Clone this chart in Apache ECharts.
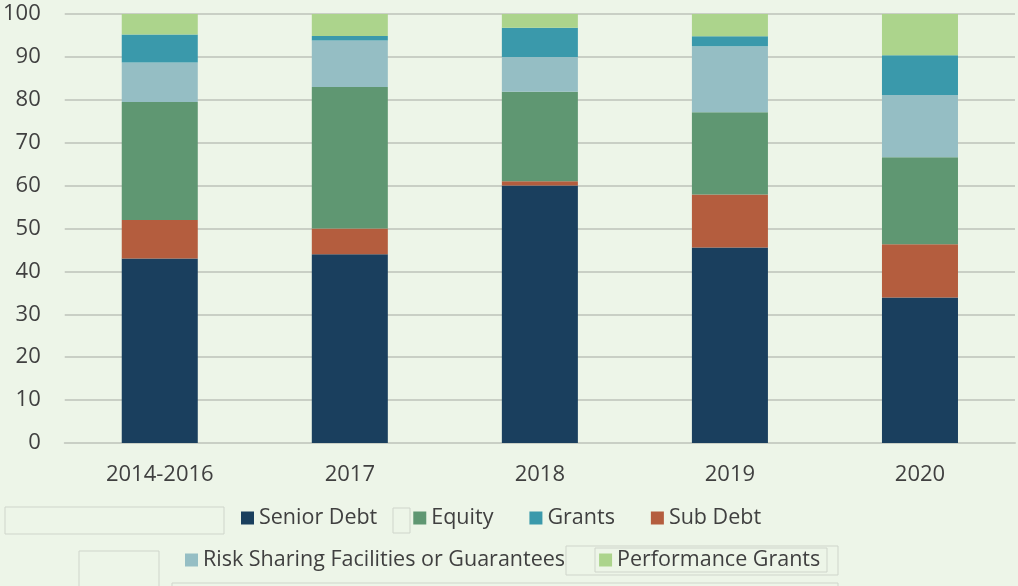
<!DOCTYPE html>
<html>
<head>
    <meta charset="utf-8">
    <title>Financing mix by year</title>
    <script src="https://cdn.jsdelivr.net/npm/echarts@6/dist/echarts.min.js"></script>
    <style>
        html, body { margin: 0; padding: 0; background: #edf5e8; }
        #chart1 { width: 1018px; height: 586px; }
    </style>
</head>
<body>
<div id="chart1"></div>
<script>
    // data (share of total, %)
    var years = ['2014-2016', '2017', '2018', '2019', '2020'];
    var seniorDebt = [43, 44, 60, 45.6, 33.9];
    var subDebt = [9, 6, 1, 12.3, 12.4];
    var equity = [27.5, 33, 20.9, 19.2, 20.3];
    var riskSharing = [9.2, 10.8, 8.1, 15.4, 14.5];
    var grants = [6.5, 1.1, 6.8, 2.3, 9.3];
    var perfGrants = [4.8, 5.1, 3.2, 5.2, 9.6];

    var textColor = '#404040';
    var gridColor = '#c9cfc5';

    function bar(name, data, color) {
        return {
            name: name,
            type: 'bar',
            stack: 'total',
            barWidth: '40%',
            data: data,
            itemStyle: { color: color }
        };
    }

    // leftover outline boxes seen around the legend
    function box(x, y, w, h) {
        return {
            type: 'rect',
            shape: { x: x, y: y, width: w, height: h },
            style: { fill: 'none', stroke: '#cfd5cb', lineWidth: 1 },
            silent: true
        };
    }

    var legendText = { fontSize: 21.5, color: textColor, fontFamily: 'Open Sans' };

    var myChart1 = echarts.init(document.getElementById('chart1'));
    myChart1.setOption({
        backgroundColor: '#edf5e8',
        textStyle: { fontFamily: 'Open Sans', color: textColor },
        grid: { left: 64, right: 3, top: 14, bottom: 143 },
        legend: [{
            data: ['Senior Debt', 'Equity', 'Grants', 'Sub Debt'],
            top: 502,
            left: 236,
            itemWidth: 13,
            itemHeight: 13,
            itemGap: 36,
            icon: 'rect',
            textStyle: legendText
        }, {
            data: ['Risk Sharing Facilities or Guarantees', 'Performance Grants'],
            top: 544,
            left: 180,
            itemWidth: 13,
            itemHeight: 13,
            itemGap: 34,
            icon: 'rect',
            textStyle: legendText
        }],
        xAxis: {
            type: 'category',
            data: years,
            axisLine: { lineStyle: { color: gridColor, width: 2 } },
            axisTick: { show: false },
            axisLabel: { fontSize: 22, color: textColor, margin: 21 }
        },
        yAxis: {
            type: 'value',
            min: 0,
            max: 100,
            interval: 10,
            axisLine: { show: false },
            axisTick: { show: false },
            splitLine: { lineStyle: { color: gridColor, width: 2 } },
            axisLabel: { fontSize: 22, color: textColor, margin: 24 }
        },
        series: [
            bar('Senior Debt', seniorDebt, '#1a3f5e'),
            bar('Sub Debt', subDebt, '#b45d3e'),
            bar('Equity', equity, '#5f9772'),
            bar('Risk Sharing Facilities or Guarantees', riskSharing, '#95bec4'),
            bar('Grants', grants, '#3a99ab'),
            bar('Performance Grants', perfGrants, '#acd48c')
        ],
        graphic: [
            box(5, 507, 219, 27),
            box(393, 508, 17, 25),
            box(79, 551, 80, 40),
            box(172, 583, 666, 10),
            box(566, 546, 272, 29),
            box(595, 548, 232, 24)
        ]
    });
</script>
</body>
</html>
